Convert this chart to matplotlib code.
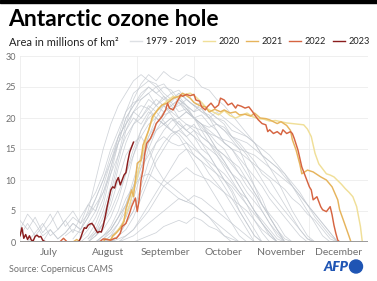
import matplotlib
matplotlib.use("Agg")
import matplotlib.pyplot as plt
from matplotlib.lines import Line2D
from matplotlib.patches import Circle
import numpy as np

plt.rcParams['font.family'] = ['Lato', 'DejaVu Sans']

# ---- data (million km2, day 0 = 1 July) ----
month_labels = ['July', 'August', 'September', 'October', 'November', 'December']
month_starts = [0, 31, 62, 92, 123, 153, 184]
yticks = [0, 5, 10, 15, 20, 25, 30]

# 1979 - 2019, values every 4 days from a start day
gray_step = 4
gray_start = [36, 28, 32, 36, 40, 40, 0, 0, 4, 12,
              44, 44, 48, 36, 40, 48, 52, 60, 52, 48,
              32, 36, 24, 44, 48, 36, 40, 0, 40, 44]
gray_values = [
    [0.5, 2, 5, 9, 14, 19, 23, 25.5, 27, 26, 27.5, 26.5, 26, 27, 26.5, 25, 24.5, 23, 22, 20.5, 19, 17.5, 16, 14, 12, 10, 7.5, 5, 3, 1, 0],
    [0.5, 2, 5, 10, 15, 19, 22, 24, 26, 27, 26, 25, 25.5, 24, 24.5, 23, 22, 21.5, 20, 18, 16, 15, 13, 11, 9, 6, 4, 2, 0],
    [0, 1, 3, 6, 11, 16, 20, 22, 23.5, 25, 24, 25, 24.5, 23, 22, 21, 21.5, 20, 19, 18, 16.5, 15, 12, 9, 7, 4, 2, 0],
    [0.5, 1.5, 4, 8, 13, 18, 21, 23, 24, 25, 23.5, 22, 23, 21.5, 20, 19, 17.5, 16, 15, 13, 12, 10, 8, 6, 4.5, 3, 1, 0],
    [0, 1, 2.5, 5, 9, 14, 18, 20.5, 22, 23, 22.5, 24, 23, 22, 21, 20.5, 19, 18.5, 17, 16, 14.5, 13, 11, 10, 8, 6, 4, 2, 0.5, 0],
    [1, 2, 4, 7, 11, 15, 18, 20, 21, 22, 21, 22.5, 21.5, 20, 20.5, 19, 18, 16, 15, 13.5, 12, 10.5, 9, 7, 5.5, 4, 2.5, 1, 0],
    [3.5, 2, 4, 1.5, 3, 5, 2.5, 4, 3, 6, 8, 11, 15, 18, 21, 22.5, 23, 24, 22, 21, 22, 20, 19, 18, 16, 14, 12, 10, 8, 5, 3, 1, 0],
    [1, 3, 1, 2.5, 4.5, 2, 3.5, 1.5, 4, 6, 5, 9, 13, 17, 19, 21, 22, 21.5, 23, 22, 20.5, 19, 18, 17, 15, 14, 12, 10, 8.5, 6, 4, 2, 0],
    [0, 1.5, 3, 1, 2, 3.5, 5, 3, 4.5, 7, 10, 13, 16, 18, 20, 19, 21, 20, 19, 18, 17.5, 16, 14, 13, 11, 9.5, 8, 6, 4, 2, 0],
    [0, 2, 0.5, 1.5, 3, 2, 4, 6, 8, 11, 14, 17, 19, 20, 21.5, 20, 19, 20, 18.5, 17, 15.5, 14, 12.5, 11, 9, 7, 5, 3, 1, 0],
    [0, 0.5, 2, 4, 8, 12, 16, 19, 21, 22, 23, 22, 21, 22.5, 21, 20, 19.5, 18, 17.5, 17, 16, 15, 14, 12.5, 11, 9, 7, 5, 3, 1, 0],
    [0.5, 1.5, 3, 6, 10, 14, 17, 19, 20.5, 21, 20, 21, 20, 19, 18.5, 19, 18, 17, 16.5, 16, 15, 14, 13, 12, 10.5, 9, 7.5, 6, 4, 2.5, 1, 0],
    [0, 1, 3, 5, 9, 13, 16, 18, 19.5, 20, 21, 20, 19, 18, 17, 16.5, 16, 15, 14.5, 14, 13, 12, 11, 10, 9, 7.5, 6, 4.5, 3, 1.5, 0],
    [0, 1.5, 3, 5, 8, 11, 14, 17, 19, 20, 19, 18, 19.5, 18, 17, 16, 15, 14, 12.5, 11, 10, 8, 6.5, 5, 3, 1.5, 0],
    [0, 1, 2, 4, 6, 9, 12, 14, 16, 17, 16, 15.5, 16, 15, 14, 13, 12, 11, 9.5, 8, 7, 5, 3.5, 2, 0.5, 0],
    [0, 0.5, 1, 2, 3.5, 5, 7, 9, 10, 11, 12, 11, 10.5, 10, 9, 8, 7, 6, 5, 3.5, 2, 1, 0],
    [0, 0.5, 1, 2, 3, 4, 5, 6, 7, 6.5, 7.5, 7, 6, 5, 4, 3, 2, 1, 0],
    [0, 0.5, 1, 1.5, 2.5, 3, 3.5, 3, 4, 3.5, 2.5, 2, 1, 0.5, 0],
    [0, 1, 2, 4, 6, 8, 10, 12, 14, 15, 14, 13, 12, 11, 10, 9, 7.5, 6, 4.5, 3, 1.5, 0],
    [0, 1, 3, 5, 8, 11, 14, 16, 17.5, 18, 17, 18, 17, 16, 14.5, 13, 11, 9, 7, 5, 3, 1.5, 0],
    [0.5, 2, 4, 7, 12, 17, 21, 24, 25, 26, 25.5, 24, 23, 23.5, 22, 20, 18, 16, 14, 12, 10, 8, 6, 3.5, 1.5, 0],
    [0, 1, 3, 7, 12, 16, 19, 21, 23, 22, 23.5, 22.5, 21, 21.5, 20, 19, 17, 15, 14, 13, 11, 9, 7.5, 5, 3, 1, 0],
    [1, 2, 1.5, 3, 5, 8, 12, 16, 20, 22, 24, 25, 24, 23, 24, 22.5, 21, 20, 18.5, 17, 15, 13, 11, 9, 7, 5, 3, 1, 0],
    [0, 1, 2, 4, 7, 11, 15, 18, 20, 21.5, 22, 23, 22, 21, 20, 21, 20, 19, 18, 17, 16, 14, 13, 12, 11, 9.5, 8, 6, 4.5, 3, 1.5, 0],
    [0, 1, 2, 4, 7, 10, 13, 15, 17, 18, 19, 18.5, 18, 17.5, 17, 16, 15, 14.5, 13.5, 12.5, 11.5, 10.5, 9.5, 8.5, 7, 6, 4.5, 3.5, 2, 0.5, 0],
    [0, 1, 3, 6, 10, 14, 16, 17, 15, 12, 10, 9, 8, 7, 6, 5, 4, 2.5, 1, 0],
    [0, 1, 2, 4, 7, 9, 10.5, 11, 10, 9, 8, 7, 6.5, 6, 5, 4, 3, 2, 1, 0],
    [2, 4.5, 3, 1, 2, 0.5, 1.5, 3, 2, 4, 7, 10, 14, 17, 19, 21, 20, 22, 21, 19.5, 18, 17, 15, 13, 11, 9, 7, 5, 3, 1, 0],
    [0, 0.5, 2, 4, 6, 9, 13, 16, 18, 19, 20, 19, 18, 19, 17, 16, 15, 14, 12.5, 11, 10, 8, 6, 4, 2, 0.5, 0],
    [0, 1, 3, 5, 9, 13, 17, 20, 22, 23, 24, 23, 22, 22.5, 21, 20, 19, 17, 15.5, 14, 12, 10, 8, 6.5, 5, 3.5, 2, 0.5, 0],
]

days_2020 = [0, 47, 48, 50, 52, 54, 56, 58, 60, 62, 63, 65, 67, 69, 71, 73, 75, 78, 81, 84, 87, 90, 93, 96, 99,
             102, 105, 108, 111, 114, 117, 120, 123, 126, 129, 132, 135, 138, 141, 144, 147, 150, 152, 154, 156,
             158, 160, 162, 164, 166, 168, 170, 172, 174, 176, 178, 180, 181]
vals_2020 = [0, 0, 0.5, 1.2, 2.0, 2.8, 4.5, 6.0, 8.5, 10.5, 12.0, 14.5, 17.0, 19.0, 20.5, 21.5, 22.0, 22.8, 23.5, 23.2,
             23.8, 24.0, 23.4, 22.5, 21.5, 21.0, 20.5, 21.2, 20.4, 20.0, 20.4, 20.8, 20.2, 19.9, 19.8, 19.5, 19.6,
             19.4, 19.2, 19.1, 19.0, 18.9, 18.2, 17.0, 14.3, 12.6, 11.8, 11.0, 10.8, 10.5, 9.9, 9.3, 8.6, 8.0, 7.3,
             5.7, 2.5, 0]

days_2021 = [0, 28, 30, 32, 44, 45, 48, 49, 51, 53, 55, 56, 58, 59, 60, 61, 62, 64, 65, 68, 70, 72, 75, 78, 81,
             84, 86, 90, 92, 95, 98, 100, 103, 106, 108, 111, 114, 116, 119, 122, 124, 127, 130, 132, 136, 138,
             141, 143, 144, 146, 148, 149, 152, 155, 159, 162, 165, 168, 169, 171, 174, 175]
vals_2021 = [0, 0, 0.4, 0, 0, 0.5, 0.3, 1.0, 1.5, 2.2, 3.3, 5.4, 7.3, 8.4, 7.3, 10.0, 12.7, 13.2, 15.6, 18.0,
             20.2, 21.0, 22.1, 22.4, 23.2, 23.5, 24.0, 23.2, 22.5, 22.0, 21.8, 21.0, 21.4, 21.0, 21.3, 20.8, 21.0,
             20.5, 20.6, 20.3, 20.8, 20.0, 19.9, 19.7, 19.1, 19.4, 18.8, 18.0, 16.5, 14.8, 12.5, 11.0, 11.6, 11.3,
             10.5, 10.0, 8.9, 6.8, 5.2, 3.5, 0.9, 0]

days_2022 = [0, 21, 23, 25, 42, 44, 48, 50, 51, 53, 54, 56, 58, 59, 61, 62, 63, 64, 65, 66, 67, 69, 71, 72, 75,
             77, 78, 79, 81, 83, 85, 86, 88, 90, 92, 93, 95, 96, 98, 99, 101, 103, 105, 106, 108, 109, 110, 112,
             114, 115, 117, 119, 121, 123, 124, 126, 128, 130, 131, 132, 134, 136, 138, 139, 141, 143, 144, 145,
             147, 149, 151, 153, 154, 155, 157, 159, 160, 162, 164, 165, 166, 167, 168, 169]
vals_2022 = [0, 0, 0.6, 0, 0, 0.5, 0.3, 0.6, 0.6, 1.4, 2.5, 3.0, 4.7, 5.7, 7.1, 4.9, 6.8, 10.0, 11.6, 14.3, 15.9,
             16.7, 18.1, 19.1, 20.2, 21.3, 22.4, 21.6, 21.3, 22.6, 23.7, 23.5, 23.8, 23.6, 23.8, 22.9, 22.7, 21.8,
             21.3, 21.8, 22.4, 21.6, 22.1, 23.2, 22.9, 22.5, 22.1, 22.4, 21.6, 22.1, 21.9, 21.6, 21.8, 21.0, 20.5,
             19.7, 19.1, 18.9, 17.8, 18.1, 17.5, 17.8, 17.3, 18.1, 17.5, 17.8, 17.5, 16.7, 14.8, 12.1, 10.5, 8.9,
             8.4, 6.8, 7.3, 5.7, 5.2, 4.9, 5.7, 4.4, 2.7, 1.4, 0.3, 0]

days_2023 = [0, 1, 2, 3, 4, 5, 6, 7, 8, 9, 10, 11, 12, 13, 14, 31, 32, 33, 34, 35, 36, 37, 38, 39, 40, 41, 42,
             43, 44, 45, 46, 47, 48, 49, 50, 51, 52, 53, 54, 55, 56, 57, 58, 59, 60]
vals_2023 = [1.0, 2.3, 0.6, 1.2, 0.4, 1.0, 0.3, 0.2, 0.9, 1.1, 0.8, 0.9, 0.3, 0.1, 0, 0, 0.6, 1.5, 2.3, 2.2,
             2.7, 2.9, 3.0, 2.6, 2.0, 1.5, 1.7, 1.6, 2.6, 4.0, 5.6, 7.0, 8.4, 8.9, 8.7, 9.8, 10.4, 9.2, 10.0,
             10.8, 11.2, 13.0, 14.5, 15.3, 16.1]

year_series = [('2020', days_2020, vals_2020, '#f0df98'),
               ('2021', days_2021, vals_2021, '#e6b45c'),
               ('2022', days_2022, vals_2022, '#d66441'),
               ('2023', days_2023, vals_2023, '#8a1d1d')]

gray_color = '#c3c8cf'
text_gray = '#6f6f6f'

# ---- figure ----
fig = plt.figure(figsize=(3.77, 2.81), dpi=100)
ax = fig.add_axes([20 / 377, 1 - 242 / 281, 348 / 377, 186 / 281])

# black strip on top
fig.add_artist(plt.Rectangle((0, 1 - 3 / 281), 1, 3 / 281, transform=fig.transFigure,
                             color='black', zorder=10))

for start, vals in zip(gray_start, gray_values):
    d = start + gray_step * np.arange(len(vals))
    ax.plot(d, vals, color=gray_color, linewidth=0.55, alpha=0.8, zorder=2)

for name, d, v, c in year_series:
    ax.plot(d, v, color=c, linewidth=1.05, zorder=3)

# grid / axes
ax.set_xlim(month_starts[0], month_starts[-1])
ax.set_ylim(0, 30)
ax.set_yticks(yticks)
ax.set_xticks(month_starts)
ax.set_xticklabels([])
ax.set_xticks([(a + b) / 2 for a, b in zip(month_starts[:-1], month_starts[1:])], minor=True)
ax.set_xticklabels(month_labels, minor=True)
ax.grid(True, which='major', color='#ececec', linewidth=0.6, zorder=0)
ax.set_axisbelow(True)
ax.axhline(0, color='#9a9a9a', linewidth=1.4, zorder=4)
for s in ax.spines.values():
    s.set_visible(False)
ax.tick_params(axis='both', which='both', length=0, labelsize=6.5, colors=text_gray, pad=3)
ax.tick_params(axis='x', which='minor', labelsize=7.5, pad=4)

# titles
fig.text(8 / 377, 1 - 19 / 281, 'Antarctic ozone hole', fontsize=16.5, fontweight='bold',
         color='black', va='center', ha='left')
fig.text(9 / 377, 1 - 42 / 281, 'Area in millions of km²', fontsize=8, color='#222222',
         va='center', ha='left')

handles = [Line2D([], [], color='#dde0e4', linewidth=1.0)]
handles += [Line2D([], [], color=c, linewidth=1.0) for _, _, _, c in year_series]
labels = ['1979 - 2019'] + [n for n, _, _, _ in year_series]
leg = fig.legend(handles, labels, loc='center right', bbox_to_anchor=(1.0, 1 - 42 / 281),
                 ncol=5, frameon=False, fontsize=6.6, handlelength=1.3, handletextpad=0.4,
                 columnspacing=0.7, borderaxespad=0.4)
for t in leg.get_texts():
    t.set_color('#222222')

# footer
fig.text(9 / 377, 1 - 270 / 281, 'Source: Copernicus CAMS', fontsize=6.5, color=text_gray,
         va='center', ha='left')
fig.text(349 / 377, 1 - 267 / 281, 'AFP', fontsize=10, fontweight='heavy', fontstyle='italic',
         color='#1f55b4', va='center', ha='right')
fig.add_artist(Circle((356 / 100, (281 - 266.5) / 100), 0.065, transform=fig.dpi_scale_trans,
                      color='#1f55b4'))

fig.savefig('out.png', dpi=100)
